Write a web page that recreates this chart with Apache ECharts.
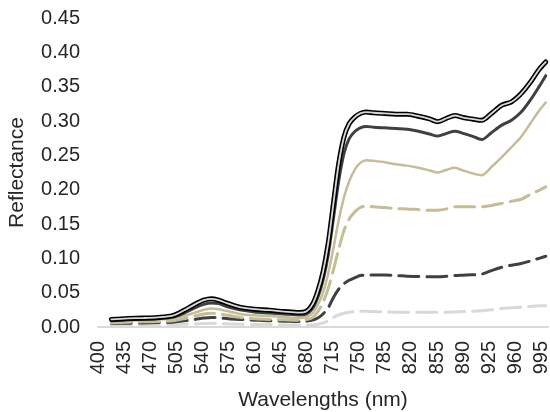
<!DOCTYPE html>
<html>
<head>
<meta charset="utf-8">
<script src="https://cdn.jsdelivr.net/npm/echarts@6/dist/echarts.min.js"></script>
<style>html,body{margin:0;padding:0;background:#fff}#c{width:550px;height:412px}</style>
</head>
<body>
<div id="c"></div>
<script>
// Wavelengths (nm) at which values were read
const wavelengths = [418,440,460,480,500,515,530,542,552,562,575,590,610,630,650,670,680,688,695,702,709,716,723,730,737,745,752,760,770,785,800,815,830,845,856,868,879,890,902,915,928,942,955,968,980,992,1001];
// X tick labels
const tickLabels = [400,435,470,505,540,575,610,645,680,715,750,785,820,855,890,925,960,995];
// Y tick values
const yTicks = [0,0.05,0.10,0.15,0.20,0.25,0.30,0.35,0.40,0.45];

const blackSolid = [0.011,0.0125,0.013,0.014,0.0165,0.024,0.033,0.039,0.041,0.039,0.034,0.029,0.026,0.0245,0.0225,0.021,0.023,0.033,0.052,0.080,0.122,0.18,0.237,0.276,0.296,0.306,0.311,0.313,0.312,0.311,0.310,0.310,0.307,0.303,0.299,0.304,0.308,0.305,0.303,0.301,0.311,0.323,0.328,0.340,0.356,0.375,0.386];
const darkSolid = [0.009,0.0105,0.011,0.012,0.014,0.020,0.028,0.033,0.035,0.034,0.029,0.025,0.022,0.0205,0.019,0.0175,0.019,0.027,0.043,0.068,0.105,0.158,0.212,0.252,0.274,0.285,0.290,0.292,0.291,0.290,0.289,0.288,0.285,0.281,0.278,0.282,0.285,0.282,0.278,0.273,0.283,0.294,0.301,0.313,0.330,0.350,0.366];
const tanSolid = [0.008,0.009,0.010,0.011,0.0125,0.016,0.021,0.025,0.027,0.026,0.023,0.019,0.017,0.016,0.0145,0.013,0.0145,0.020,0.032,0.050,0.078,0.115,0.155,0.188,0.212,0.230,0.239,0.243,0.242,0.240,0.237,0.235,0.232,0.228,0.225,0.229,0.232,0.228,0.224,0.221,0.233,0.2475,0.262,0.277,0.296,0.315,0.327];
const tanDashed = [0.006,0.007,0.0075,0.008,0.009,0.012,0.016,0.019,0.020,0.019,0.017,0.014,0.012,0.011,0.0105,0.010,0.011,0.014,0.022,0.036,0.056,0.083,0.113,0.140,0.157,0.168,0.174,0.176,0.175,0.174,0.1725,0.172,0.171,0.170,0.170,0.172,0.175,0.175,0.175,0.175,0.177,0.180,0.183,0.186,0.193,0.199,0.204];
const darkDashed = [0.005,0.0055,0.006,0.0065,0.007,0.009,0.011,0.013,0.014,0.0135,0.012,0.011,0.010,0.009,0.0085,0.008,0.0085,0.010,0.013,0.019,0.028,0.043,0.055,0.063,0.068,0.072,0.075,0.0755,0.0756,0.0756,0.075,0.074,0.0735,0.073,0.073,0.074,0.075,0.0755,0.076,0.077,0.082,0.087,0.090,0.0925,0.096,0.100,0.103];
const lightDashed = [0.002,0.0025,0.003,0.003,0.0035,0.004,0.0045,0.005,0.0055,0.005,0.0045,0.004,0.0035,0.0035,0.003,0.003,0.003,0.003,0.004,0.006,0.009,0.014,0.0175,0.020,0.0215,0.0225,0.023,0.023,0.0225,0.022,0.0215,0.0213,0.0213,0.0213,0.0213,0.0215,0.022,0.0225,0.023,0.0237,0.025,0.027,0.028,0.029,0.030,0.031,0.031];

function pairs(vals){ return wavelengths.map((w,i)=>[w, vals[i]]); }
function line(name, vals, color, width, type, z){
  return {
    name, type:'line', data: pairs(vals), showSymbol:false, symbol:'none',
    smooth:0.3, z: z,
    lineStyle:{color, width, type: type || 'solid', cap:'round', join:'round'}
  };
}

const textColor = '#262626';
const font = 'Liberation Sans, Arial, sans-serif';
const chart = echarts.init(document.getElementById('c'), null, {renderer:'canvas'});
chart.setOption({
  animation:false,
  backgroundColor:'#ffffff',
  grid:{left:98, right:2, top:18, bottom:85, containLabel:false, outerBoundsMode:'none'},
  xAxis:{
    type:'value', min:400, max:1004,
    name:'Wavelengths (nm)', nameLocation:'middle', nameGap:63, nameMoveOverlap:false,
    nameTextStyle:{color:textColor, fontSize:21, fontFamily:font},
    axisLine:{show:true, lineStyle:{color:'#d9d9d9', width:2}},
    axisTick:{show:false},
    splitLine:{show:false},
    axisLabel:{customValues:tickLabels, rotate:90, margin:14, color:textColor, fontSize:20, fontFamily:font, formatter:v=>String(v)}
  },
  yAxis:{
    type:'value', min:0, max:0.45, interval:0.05,
    name:'Reflectance', nameLocation:'middle', nameGap:70, nameMoveOverlap:false,
    nameTextStyle:{color:textColor, fontSize:21, fontFamily:font},
    axisLine:{show:false}, axisTick:{show:false}, splitLine:{show:false},
    axisLabel:{customValues:yTicks, margin:18, color:textColor, fontSize:20, fontFamily:font, formatter:v=>v.toFixed(2)}
  },
  series:[
    line('s6', lightDashed, '#d9d9d9', 3, [20,8], 1),
    line('s5', darkDashed, '#404040', 3, [20,8], 2),
    line('s4', tanDashed, '#c4bd97', 3, [20,8], 3),
    line('s3', tanSolid, '#c4bd97', 2.5, 'solid', 4),
    line('s2', darkSolid, '#404040', 3, 'solid', 5),
    line('s1', blackSolid, '#000000', 5, 'solid', 6),
    line('s1inner', blackSolid, '#d9d9d9', 1.8, 'solid', 7)
  ]
});
</script>
</body>
</html>
